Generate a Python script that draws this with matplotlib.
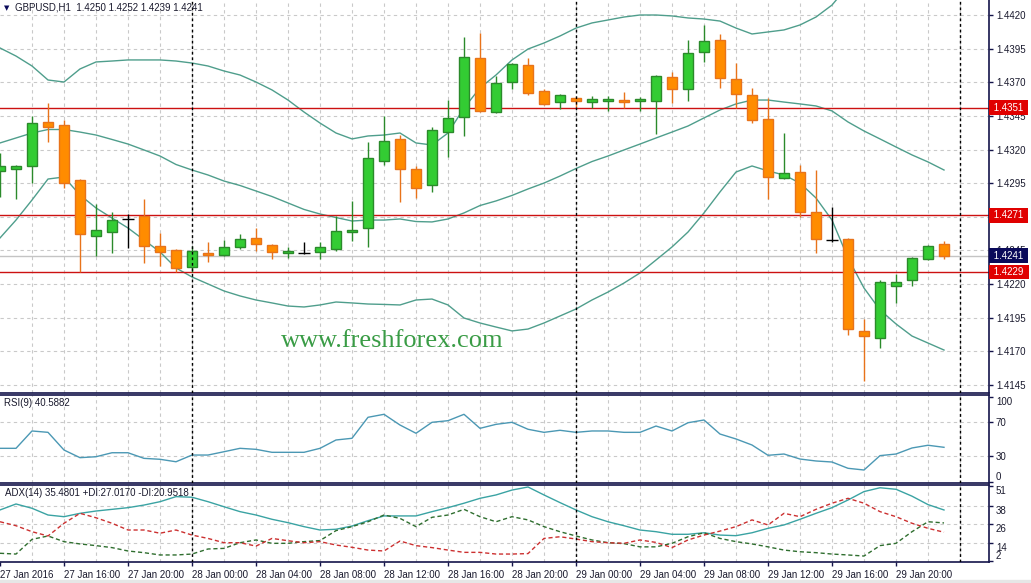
import numpy as np
import matplotlib.pyplot as plt
from matplotlib.patches import Rectangle

W, H = 1031, 583

# hourly GBPUSD candles, 27 Jan 12:00 .. 29 Jan 23:00
opens = [1.43041, 1.43055, 1.43080, 1.43405, 1.43383, 1.42974, 1.42560, 1.42590, 1.42684, 1.42708,
         1.42483, 1.42451, 1.42329, 1.42431, 1.42414, 1.42478, 1.42545, 1.42488, 1.42429, 1.42429,
         1.42441, 1.42459, 1.42585, 1.42615, 1.43117, 1.43278, 1.43055, 1.42934, 1.43333, 1.43444,
         1.43878, 1.43481, 1.43704, 1.43828, 1.43635, 1.43551, 1.43581, 1.43551, 1.43563, 1.43568,
         1.43563, 1.43563, 1.43737, 1.43648, 1.43923, 1.44014, 1.43722, 1.43603, 1.43427, 1.42986,
         1.43031, 1.42734, 1.42528, 1.42535, 1.41852, 1.41797, 1.42188, 1.42231, 1.42384, 1.42500]
highs = [1.43174, 1.43085, 1.43452, 1.43544, 1.43420, 1.42980, 1.42795, 1.42734, 1.42719, 1.42833,
         1.42578, 1.42460, 1.42485, 1.42511, 1.42528, 1.42572, 1.42619, 1.42495, 1.42478, 1.42515,
         1.42511, 1.42706, 1.42818, 1.43254, 1.43452, 1.43308, 1.43080, 1.43365, 1.43568, 1.44039,
         1.44064, 1.43747, 1.43845, 1.43883, 1.43650, 1.43610, 1.43590, 1.43598, 1.43598, 1.43630,
         1.43593, 1.43755, 1.43774, 1.44014, 1.44126, 1.44057, 1.43846, 1.43655, 1.43581, 1.43321,
         1.43085, 1.43048, 1.42771, 1.42545, 1.41941, 1.42231, 1.42275, 1.42399, 1.42490, 1.42520]
lows = [1.42847, 1.42833, 1.42949, 1.43258, 1.42912, 1.42288, 1.42411, 1.42429, 1.42471, 1.42359,
        1.42337, 1.42288, 1.42292, 1.42367, 1.42410, 1.42459, 1.42448, 1.42384, 1.42392, 1.42424,
        1.42384, 1.42448, 1.42523, 1.42478, 1.43087, 1.42812, 1.42842, 1.42887, 1.43147, 1.43303,
        1.43481, 1.43475, 1.43650, 1.43605, 1.43531, 1.43504, 1.43514, 1.43507, 1.43489, 1.43507,
        1.43489, 1.43316, 1.43548, 1.43563, 1.43853, 1.43660, 1.43507, 1.43395, 1.42830, 1.42980,
        1.42701, 1.42429, 1.42515, 1.41822, 1.41480, 1.41723, 1.42057, 1.42188, 1.42380, 1.42390]
closes = [1.43078, 1.43078, 1.43395, 1.43370, 1.42949, 1.42570, 1.42602, 1.42676, 1.42684, 1.42485,
          1.42441, 1.42322, 1.42444, 1.42419, 1.42476, 1.42535, 1.42500, 1.42441, 1.42446, 1.42429,
          1.42476, 1.42592, 1.42602, 1.43135, 1.43264, 1.43058, 1.42917, 1.43345, 1.43432, 1.43886,
          1.43489, 1.43692, 1.43836, 1.43623, 1.43541, 1.43603, 1.43563, 1.43578, 1.43576, 1.43551,
          1.43576, 1.43747, 1.43652, 1.43915, 1.44007, 1.43734, 1.43611, 1.43420, 1.42994, 1.43024,
          1.42738, 1.42533, 1.42528, 1.41864, 1.41814, 1.42213, 1.42218, 1.42392, 1.42485, 1.42410]

# Bollinger bands
bb_upper = [1.43955, 1.43895, 1.43821, 1.43717, 1.43702, 1.43799, 1.43851, 1.43858, 1.43866, 1.43866,
            1.43866, 1.43858, 1.43843, 1.43821, 1.43784, 1.43754, 1.43702, 1.43643, 1.43568, 1.43479,
            1.43397, 1.43323, 1.43279, 1.43301, 1.43308, 1.43323, 1.43249, 1.43234, 1.43323, 1.43509,
            1.43658, 1.43754, 1.43866, 1.43947, 1.43992, 1.44044, 1.44103, 1.44141, 1.44163, 1.44185,
            1.44200, 1.44200, 1.44193, 1.44178, 1.44170, 1.44155, 1.44103, 1.44059, 1.44074, 1.44089,
            1.44126, 1.44185, 1.44274, 1.44416, 1.44505, 1.44549, 1.44535, 1.44505, 1.44453, 1.44386]
bb_middle = [1.43249, 1.43286, 1.43323, 1.43349, 1.43349, 1.43330, 1.43308, 1.43275, 1.43241, 1.43197,
             1.43152, 1.43089, 1.43048, 1.43011, 1.42966, 1.42933, 1.42892, 1.42851, 1.42803, 1.42755,
             1.42721, 1.42695, 1.42669, 1.42676, 1.42676, 1.42684, 1.42665, 1.42662, 1.42684, 1.42729,
             1.42784, 1.42818, 1.42859, 1.42907, 1.42951, 1.43003, 1.43059, 1.43111, 1.43152, 1.43197,
             1.43241, 1.43286, 1.43330, 1.43375, 1.43435, 1.43494, 1.43539, 1.43568, 1.43568, 1.43553,
             1.43539, 1.43524, 1.43487, 1.43405, 1.43338, 1.43279, 1.43219, 1.43160, 1.43108, 1.43048]
bb_lower = [1.42543, 1.42676, 1.42825, 1.42981, 1.42996, 1.42862, 1.42766, 1.42691, 1.42617, 1.42528,
            1.42439, 1.42320, 1.42253, 1.42201, 1.42149, 1.42112, 1.42082, 1.42060, 1.42037, 1.42030,
            1.42045, 1.42067, 1.42060, 1.42052, 1.42049, 1.42045, 1.42082, 1.42089, 1.42045, 1.41948,
            1.41911, 1.41881, 1.41852, 1.41866, 1.41911, 1.41963, 1.42015, 1.42082, 1.42141, 1.42208,
            1.42283, 1.42379, 1.42476, 1.42587, 1.42729, 1.42885, 1.43033, 1.43078, 1.43041, 1.43011,
            1.42951, 1.42840, 1.42676, 1.42394, 1.42171, 1.42008, 1.41904, 1.41814, 1.41762, 1.41710]

rsi = [39.4, 39.4, 59.8, 58.2, 37.4, 28.4, 29.5, 34.2, 34.2, 27.6,
       26.5, 23.6, 31.5, 31.5, 35.4, 39.4, 38.2, 34.7, 34.7, 34.7,
       39.4, 49.2, 51.2, 75.9, 79.4, 66.8, 57.1, 70.0, 71.9, 79.4,
       62.9, 67.6, 70.0, 61.8, 58.2, 60.6, 58.2, 59.8, 59.8, 58.2,
       58.2, 65.6, 59.8, 69.5, 72.7, 56.2, 50.4, 43.3, 31.2, 32.7,
       26.8, 24.5, 23.3, 15.9, 13.9, 30.8, 32.7, 39.8, 43.0, 40.59]

adx = [35.5, 39.4, 36.6, 32.2, 31.1, 33.3, 34.8, 35.9, 37.0, 38.7,
       40.9, 44.2, 43.8, 40.9, 37.6, 34.4, 32.2, 29.4, 27.2, 24.6,
       22.4, 22.9, 25.0, 28.5, 31.6, 31.6, 31.6, 34.4, 37.0, 39.9,
       43.1, 45.3, 48.5, 50.5, 45.3, 40.3, 35.5, 31.1, 27.8, 25.2,
       22.4, 21.3, 19.6, 19.6, 20.6, 19.1, 18.7, 20.6, 23.5, 25.7,
       29.4, 33.3, 37.0, 42.0, 47.5, 50.0, 49.0, 44.5, 39.0, 35.48]
plus_di = [7.2, 6.7, 16.3, 18.5, 14.8, 13.3, 12.2, 10.9, 8.7, 7.6,
           6.1, 6.1, 6.7, 10.0, 10.4, 14.1, 15.9, 13.7, 13.7, 14.8,
           15.5, 22.0, 24.6, 27.8, 32.2, 30.0, 24.6, 30.7, 32.2, 35.9,
           31.1, 27.8, 31.1, 29.0, 24.6, 21.3, 18.5, 15.9, 14.1, 13.5,
           11.4, 11.4, 13.7, 18.0, 20.6, 16.9, 14.8, 13.3, 11.4, 9.3,
           8.2, 7.6, 6.7, 6.1, 5.4, 12.2, 13.7, 21.3, 27.8, 27.02]
minus_di = [27.8, 25.2, 21.3, 18.5, 26.8, 33.3, 30.4, 26.8, 22.4, 22.4,
            20.3, 22.4, 19.1, 16.9, 14.1, 14.1, 11.9, 16.9, 15.4, 14.1,
            14.8, 12.6, 11.1, 9.3, 8.7, 15.2, 12.2, 10.9, 9.3, 7.8,
            7.8, 6.7, 6.7, 7.0, 16.9, 18.0, 16.5, 14.8, 14.1, 13.7,
            15.9, 14.3, 10.9, 15.9, 19.1, 21.7, 24.6, 29.0, 25.7, 33.3,
            31.1, 35.9, 39.9, 43.1, 39.9, 34.4, 31.1, 26.8, 23.5, 20.95]

red_levels = [1.4351, 1.4271, 1.4229]
last_price = 1.4241
price_ticks = [1.4145, 1.4170, 1.4195, 1.4220, 1.4245, 1.4270, 1.4295, 1.4320, 1.4345, 1.4370, 1.4395, 1.4420]
time_labels = ['27 Jan 2016', '27 Jan 16:00', '27 Jan 20:00', '28 Jan 00:00', '28 Jan 04:00',
               '28 Jan 08:00', '28 Jan 12:00', '28 Jan 16:00', '28 Jan 20:00', '29 Jan 00:00',
               '29 Jan 04:00', '29 Jan 08:00', '29 Jan 12:00', '29 Jan 16:00', '29 Jan 20:00']

plt.rcParams['font.family'] = ['Liberation Sans', 'DejaVu Sans']
navy = '#14144a'
txt = '#1a1a2e'
grid_c = '#c9c9c9'
band_c = '#4f9e8c'

fig = plt.figure(figsize=(W / 100, H / 100), dpi=100)
fig.patch.set_facecolor('white')


def px_axes(x0, y0, x1, y1):
    return fig.add_axes([x0 / W, 1 - y1 / H, (x1 - x0) / W, (y1 - y0) / H])


ax1 = px_axes(0, 0, 989, 392.5)
ax2 = px_axes(0, 394.5, 989, 482.5)
ax3 = px_axes(0, 485, 989, 561.7)

idx = np.arange(len(opens))
o, hi, lo, c = map(np.array, (opens, highs, lows, closes))
xmax = 989 / 16

for ax in (ax1, ax2, ax3):
    ax.set_xlim(0, xmax)
    ax.set_facecolor('white')
    for g in range(2, 62, 2):
        ax.axvline(g, color=grid_c, lw=0.8, ls=(0, (3, 3)), zorder=0)
    for sep in (12, 36, 60):
        ax.axvline(sep, color='black', lw=1, ls=(0, (2, 2)), zorder=6)
    ax.spines['left'].set_visible(False)
    for s in ('right', 'bottom', 'top'):
        ax.spines[s].set_color(navy)
        ax.spines[s].set_linewidth(1.2)
    ax.yaxis.tick_right()
    ax.tick_params(axis='y', length=3, width=1, color=navy, pad=2, labelsize=7, labelcolor=txt)

ax1.spines['top'].set_visible(False)

# ---- price panel
ax1.set_ylim(1.413944, 1.443115)
ax1.set_yticks(price_ticks)
ax1.set_yticklabels([f'{p:.4f}' for p in price_ticks])
for p in price_ticks:
    ax1.axhline(p, color=grid_c, lw=0.8, ls=(0, (3, 3)), zorder=0)
ax1.set_xticks([])

ax1.plot(idx, bb_upper, color=band_c, lw=1, zorder=2)
ax1.plot(idx, bb_middle, color=band_c, lw=1, zorder=2)
ax1.plot(idx, bb_lower, color=band_c, lw=1, zorder=2)

ax1.axhline(last_price, color='#c4c4c4', lw=1, zorder=1)
for lvl in red_levels:
    ax1.axhline(lvl, color='#cc1111', lw=1, zorder=2)

up = c > o
dn = c < o
fl = c == o
bw = 0.62
ax1.vlines(idx[up], lo[up], hi[up], color='#2b8a2b', lw=1, zorder=3)
ax1.bar(idx[up], (c - o)[up], bottom=o[up], width=bw, color='#33cc33',
        edgecolor='#2b8a2b', lw=1, zorder=4)
ax1.vlines(idx[dn], lo[dn], hi[dn], color='#e8731a', lw=1, zorder=3)
ax1.bar(idx[dn], (o - c)[dn], bottom=c[dn], width=bw, color='#ff8c00',
        edgecolor='#e8731a', lw=1, zorder=4)
ax1.vlines(idx[fl], lo[fl], hi[fl], color='black', lw=1, zorder=3)
ax1.hlines(c[fl], idx[fl] - 0.35, idx[fl] + 0.35, color='black', lw=1, zorder=4)

# price tags on the right scale (boxes wide enough to hide the grid label below)
ytr = ax1.get_yaxis_transform()
tag_box = dict(boxstyle='square,pad=0.25', ec='none')
for lvl in red_levels:
    ax1.text(1.002, lvl, f' {lvl:.4f} ', transform=ytr, va='center', ha='left', fontsize=7,
             color='white', clip_on=False, zorder=10, bbox=dict(tag_box, fc='#e00000'))
ax1.text(1.002, last_price, f' {last_price:.4f} ', transform=ytr, va='center', ha='left', fontsize=7,
         color='white', clip_on=False, zorder=10, bbox=dict(tag_box, fc='#0a0a5a'))

fig.text(4 / W, 1 - 8 / H, '▼', fontsize=5, color='#0a0a5a', va='center', family='DejaVu Sans')
fig.text(15 / W, 1 - 8 / H, 'GBPUSD,H1  1.4250 1.4252 1.4239 1.4241', fontsize=7, color=txt, va='center')
fig.text(392 / W, 1 - 341 / H, 'www.freshforex.com', fontsize=19, family='Liberation Serif',
         color='#3a9c46', ha='center', va='center')

# ---- RSI panel
ax2.set_ylim(-0.8, 102.7)
ax2.set_xticks([])
for lv in (70, 30):
    ax2.axhline(lv, color=grid_c, lw=0.8, ls=(0, (3, 3)), zorder=0)
ax2.plot(idx, rsi, color='#4b98b4', lw=1, zorder=3)
ax2.set_yticks([0, 30, 70, 100])
ax2.set_yticklabels(['0', '30', '70', '100'])
lab = ax2.get_yticklabels()
lab[0].set_va('bottom')
lab[3].set_va('top')
fig.text(4 / W, 1 - 403 / H, 'RSI(9) 40.5882', fontsize=7, color=txt, va='center')

# ---- ADX panel
ax3.set_ylim(1.7, 51.8)
for lv in (38, 26, 14):
    ax3.axhline(lv, color=grid_c, lw=0.8, ls=(0, (3, 3)), zorder=0)
ax3.plot(idx, adx, color='#3aa3a3', lw=1, zorder=3)
ax3.plot(idx, plus_di, color='#2f6e2f', lw=1, ls=(0, (3, 2)), zorder=3)
ax3.plot(idx, minus_di, color='#cc3030', lw=1, ls=(0, (3, 2)), zorder=3)
ax3.set_yticks([2, 14, 26, 38, 51])
ax3.set_yticklabels(['2', '14', '26', '38', '51'])
lab = ax3.get_yticklabels()
lab[0].set_va('bottom')
for t in lab[1:]:
    t.set_va('top')
fig.text(5 / W, 1 - 493 / H, 'ADX(14) 35.4801 +DI:27.0170 -DI:20.9518', fontsize=7, color=txt, va='center')

ax3.set_xticks(np.arange(0, 57, 4))
ax3.set_xticklabels(time_labels, ha='left')
ax3.tick_params(axis='x', length=3, width=1, color=navy, pad=3, labelsize=7, labelcolor=txt)

fig.add_artist(Rectangle((0, 0), 1, 3 / H, transform=fig.transFigure, color='#e6e6e6', zorder=0))

fig.savefig('out.png', dpi=100)
